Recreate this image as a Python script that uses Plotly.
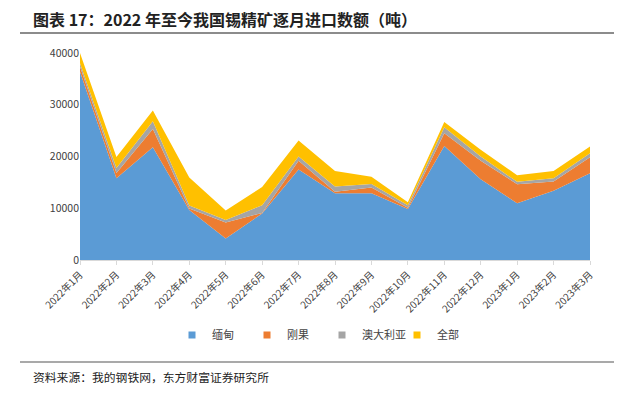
import plotly.graph_objects as go

categories = ["2022年1月", "2022年2月", "2022年3月", "2022年4月", "2022年5月", "2022年6月",
              "2022年7月", "2022年8月", "2022年9月", "2022年10月", "2022年11月", "2022年12月",
              "2023年1月", "2023年2月", "2023年3月"]
myanmar = [36400, 15800, 21800, 9650, 4150, 9000, 17500, 12900, 12900, 9850, 22050, 15600, 10950, 13400, 16750]
congo = [1000, 1000, 3500, 300, 3100, 100, 1700, 300, 1100, 250, 2450, 3600, 3700, 1750, 3100]
australia = [600, 1000, 1500, 600, 500, 1500, 800, 1000, 700, 500, 1150, 800, 450, 650, 800]
total = [2000, 2100, 2100, 5400, 1800, 3500, 3100, 3000, 1400, 550, 1000, 1300, 1300, 1400, 1300]

series = [("缅甸", myanmar, "#5B9BD5"), ("刚果", congo, "#ED7D31"),
          ("澳大利亚", australia, "#A5A5A5"), ("全部", total, "#FFC000")]

fig = go.Figure()
for name, vals, color in series:
    fig.add_trace(go.Scatter(x=categories, y=vals, name=name, stackgroup="one",
                             mode="lines", line=dict(width=0, color=color),
                             fillcolor=color, showlegend=False, legendgroup=name))
for name, vals, color in series:
    fig.add_trace(go.Scatter(x=[None], y=[None], name=name, mode="markers",
                             marker=dict(symbol="square", size=7, color=color),
                             legendgroup=name, showlegend=True))

# page body has an 8px offset; work in screen pixels and convert
OFF = 8
W, H = 634 - OFF, 398 - OFF
L, R, T, B = 80 - OFF, 44, 53 - OFF, 138

pw = W - L - R
ph = H - T - B

def px(x):
    return (x - OFF - L) / pw

def py(y):
    return (H - B - (y - OFF)) / ph

fig.update_layout(
    width=W, height=H,
    margin=dict(l=L, r=R, t=T, b=B),
    paper_bgcolor="white", plot_bgcolor="white",
    font=dict(family="Noto Sans CJK SC", size=11, color="#333333"),
    showlegend=True,
    legend=dict(orientation="h", x=px(322), xanchor="center", y=py(335), yanchor="middle",
                font=dict(size=11, color="#444444"), itemwidth=30, traceorder="normal",
                tracegroupgap=0, entrywidth=30, entrywidthmode="pixels"),
    xaxis=dict(type="category", range=[0, len(categories) - 1], showgrid=False,
               showline=True, linecolor="#D9D9D9", linewidth=1,
               ticks="outside", ticklen=4, tickcolor="#D9D9D9",
               tickangle=-45, tickfont=dict(size=10, color="#404040")),
    yaxis=dict(range=[0, 40000], tickvals=[0, 10000, 20000, 30000, 40000],
               ticktext=["0", "10000", "20000", "30000", "40000"],
               showgrid=False, showline=False, zeroline=False,
               tickfont=dict(size=10.5, color="#404040")),
    annotations=[
        dict(text="<b>图表 17：2022 年至今我国锡精矿逐月进口数额（吨）</b>", xref="paper", yref="paper",
             x=px(31), y=py(19), xanchor="left", yanchor="middle", showarrow=False,
             font=dict(size=16, color="#222222", family="Noto Sans CJK SC")),
        dict(text="资料来源：我的钢铁网，东方财富证券研究所", xref="paper", yref="paper",
             x=px(31), y=py(376), xanchor="left", yanchor="middle", showarrow=False,
             font=dict(size=11.8, color="#222222", family="Noto Sans CJK SC")),
    ],
    shapes=[
        dict(type="line", xref="paper", yref="paper", x0=px(20), x1=px(614),
             y0=py(33), y1=py(33), line=dict(color="#8C8C8C", width=2)),
        dict(type="line", xref="paper", yref="paper", x0=px(20), x1=px(614),
             y0=py(362), y1=py(362), line=dict(color="#8C8C8C", width=1.5)),
    ],
)

fig.write_html("out.html")
